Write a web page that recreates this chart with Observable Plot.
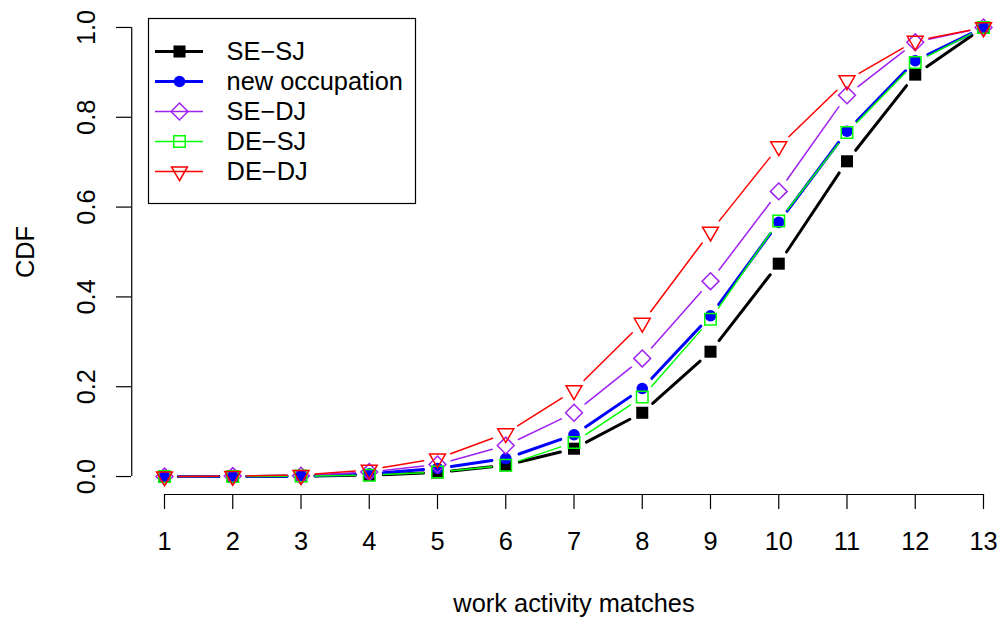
<!DOCTYPE html>
<html>
<head>
<meta charset="utf-8">
<script src="https://cdn.jsdelivr.net/npm/d3@7"></script>
<script src="https://cdn.jsdelivr.net/npm/@observablehq/plot@0.6"></script>
<style>
  html, body { margin: 0; padding: 0; background: #fff; }
  #wrap { position: relative; width: 1002px; height: 622px; }
  #wrap svg { font-family: "Liberation Sans", Arial, Helvetica, sans-serif; overflow: visible; }
  #legend { position: absolute; left: 148px; top: 18px; }
</style>
</head>
<body>
<div id="wrap"><div id="legend"></div></div>
<script>
// ---- data ----
const matches = [1, 2, 3, 4, 5, 6, 7, 8, 9, 10, 11, 12, 13];
const seSJ   = [0, 0, 0.001, 0.003, 0.009, 0.025, 0.062, 0.142, 0.278, 0.474, 0.702, 0.895, 1.0];
const newOcc = [0, 0, 0.001, 0.006, 0.018, 0.040, 0.093, 0.196, 0.358, 0.566, 0.769, 0.926, 1.0];
const seDJ   = [0, 0.001, 0.002, 0.010, 0.027, 0.069, 0.142, 0.263, 0.435, 0.635, 0.849, 0.967, 1.0];
const deSJ   = [0, 0, 0.001, 0.003, 0.010, 0.025, 0.076, 0.177, 0.350, 0.569, 0.766, 0.922, 1.0];
const deDJ   = [0, 0.001, 0.003, 0.015, 0.040, 0.096, 0.192, 0.342, 0.545, 0.735, 0.882, 0.970, 1.0];
const seriesNames = ["SE\u2212SJ", "new occupation", "SE\u2212DJ", "DE\u2212SJ", "DE\u2212DJ"];
const xTicks = [1, 2, 3, 4, 5, 6, 7, 8, 9, 10, 11, 12, 13];
const yTicks = [0, 0.2, 0.4, 0.6, 0.8, 1.0];
const xLabel = "work activity matches";
const yLabel = "CDF";

// ---- styles ----
const styles = [
  {values: seSJ,   color: "#000000", width: 3,   symbol: "square",   r: 6.8, fill: "#000000", stroke: "none",    sw: 0},
  {values: newOcc, color: "#0000FF", width: 3,   symbol: "circle",   r: 5.8, fill: "#0000FF", stroke: "none",    sw: 0},
  {values: seDJ,   color: "#A020F0", width: 1.5, symbol: "diamond2", r: 7.6, fill: "none",    stroke: "#A020F0", sw: 1.5},
  {values: deSJ,   color: "#00FF00", width: 1.5, symbol: "square",   r: 6.5, fill: "none",    stroke: "#00FF00", sw: 1.5},
  {values: deDJ,   color: "#FF0000", width: 1.5, symbol: "triangle2",r: 7.6, fill: "none",    stroke: "#FF0000", sw: 1.5, rotate: 180}
];

const fontSize = 25.4;
const xMin = d3.min(matches), xMax = d3.max(matches);
const xUsrLo = xMin - 0.04 * (xMax - xMin);
const yUsrLo = -0.04, yUsrHi = 1.04;

const marks = [];
// axis lines (R style: span first to last tick)
marks.push(Plot.ruleY([yUsrLo], {x1: xTicks[0], x2: xTicks[xTicks.length - 1], stroke: "black", strokeWidth: 1.2}));
marks.push(Plot.ruleX([xUsrLo], {y1: yTicks[0], y2: yTicks[yTicks.length - 1], stroke: "black", strokeWidth: 1.2}));
marks.push(Plot.axisX(xTicks, {tickSize: 15, tickPadding: 22, fontSize, tickFormat: d3.format("d"), label: null, strokeWidth: 1.2, color: "black"}));
marks.push(Plot.axisY(yTicks, {tickSize: 15, dx: -33, tickFormat: () => "", label: null, strokeWidth: 1.2, color: "black"}));
marks.push(Plot.text(yTicks, {y: d => d, text: d3.format(".1f"), frameAnchor: "left", dx: -78, rotate: -90, textAnchor: "middle", lineAnchor: "middle", fontSize, fill: "black"}));
marks.push(Plot.text([xLabel], {frameAnchor: "bottom", dy: 109, lineAnchor: "middle", textAnchor: "middle", fontSize, fill: "black"}));
marks.push(Plot.text([yLabel], {frameAnchor: "left", dx: -139, rotate: -90, lineAnchor: "middle", textAnchor: "middle", fontSize, fill: "black"}));

for (const s of styles) {
  const segs = [];
  for (let i = 0; i < matches.length - 1; i++) {
    segs.push({x1: matches[i], y1: s.values[i], x2: matches[i + 1], y2: s.values[i + 1]});
  }
  const pts = matches.map((m, i) => ({x: m, y: s.values[i]}));
  marks.push(Plot.arrow(segs, {x1: "x1", y1: "y1", x2: "x2", y2: "y2", stroke: s.color, strokeWidth: s.width, headLength: 0, bend: 0, inset: 14}));
  marks.push(Plot.dot(pts, {x: "x", y: "y", symbol: s.symbol, r: s.r, fill: s.fill, stroke: s.stroke, strokeWidth: s.sw, rotate: s.rotate || 0}));
}

const chart = Plot.plot({
  width: 1002,
  height: 622,
  marginLeft: 164,
  marginRight: 19,
  marginTop: 9,
  marginBottom: 128,
  style: {background: "white", fontFamily: "Liberation Sans, Arial, sans-serif"},
  x: {domain: [xMin, xMax]},
  y: {domain: [yUsrLo, yUsrHi]},
  marks
});
document.getElementById("wrap").prepend(chart);

// ---- legend ----
const legMarks = [Plot.frame({stroke: "black", strokeWidth: 1.2})];
styles.forEach((s, i) => {
  const name = seriesNames[i];
  legMarks.push(Plot.ruleY([name], {y: d => d, x1: 0, x2: 1, stroke: s.color, strokeWidth: s.width}));
  legMarks.push(Plot.dot([name], {y: d => d, x: 0.5, symbol: s.symbol, r: s.r, fill: s.fill, stroke: s.stroke, strokeWidth: s.sw, rotate: s.rotate || 0}));
  legMarks.push(Plot.text([name], {y: d => d, x: 1.48, text: d => d, textAnchor: "start", lineAnchor: "middle", fontSize, fill: "black"}));
});
const legend = Plot.plot({
  width: 267,
  height: 185,
  margin: 0,
  style: {background: "white", fontFamily: "Liberation Sans, Arial, sans-serif", overflow: "visible"},
  x: {domain: [0, 1], range: [7, 55], axis: null},
  y: {type: "point", domain: seriesNames, range: [32, 154], padding: 0, axis: null},
  marks: legMarks
});
document.getElementById("legend").appendChild(legend);
</script>
</body>
</html>
